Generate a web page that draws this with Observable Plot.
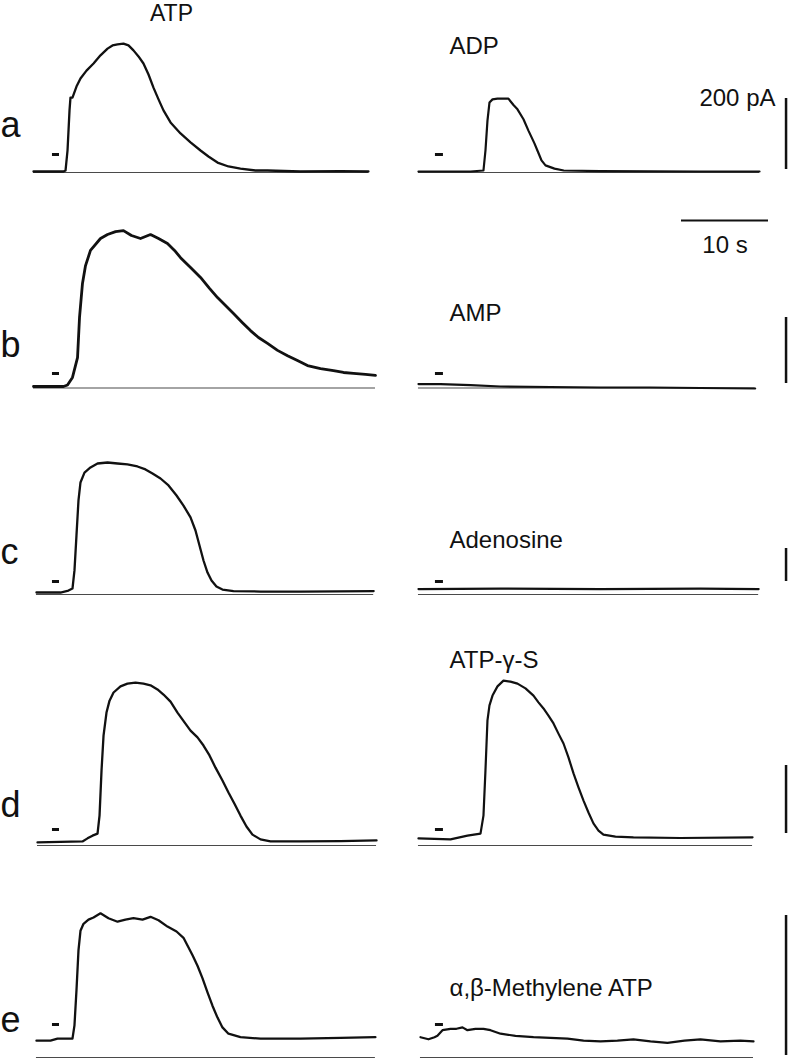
<!DOCTYPE html>
<html><head><meta charset="utf-8">
<script src="https://cdn.jsdelivr.net/npm/d3@7"></script>
<script src="https://cdn.jsdelivr.net/npm/@observablehq/plot@0.6"></script>
<style>
body{margin:0;background:#fff}
#fig{position:relative;width:788px;height:1061px;overflow:hidden;background:#fff}
#fig svg{position:absolute;left:0}
</style>
</head><body><div id="fig"></div>
<script>
// ---------- data: [time (s), current (pA)] ----------
const atp_a = [[0,2.8],[3.45,2.8],[3.68,5.6],[3.91,62],[4.14,175],[4.25,211],[4.48,211],[4.94,242],[5.40,265],[6.09,287],[6.90,307],[7.70,330],[8.51,349],[9.08,358],[9.66,361],[10.34,363],[10.92,358],[11.49,344],[12.07,327],[12.64,307],[13.22,276],[13.79,239],[14.37,206],[14.94,175],[15.75,141],[16.90,110],[18.05,85],[19.20,62],[20.11,45],[21.15,28],[22.41,17],[23.79,11],[25.52,5.6],[26.9,5.6],[30.7,2.8],[35.3,4],[38.5,2.8]];
const adp_a = [[0,2.8],[5.98,2.8],[7.47,5.6],[7.70,62],[7.93,146],[8.16,197],[8.51,206],[9.08,208],[9.77,208],[10.34,208],[10.92,190],[11.38,178],[12.07,150],[12.64,118],[13.33,82],[13.79,55],[14.14,34],[14.6,20],[15.63,11],[16.7,5.6],[20.9,4],[32.4,2.8],[39.2,2.8]];
const atp_b = [[0,4.5],[3.45,4.5],[3.91,9],[4.48,32],[5.06,92],[5.29,214],[5.63,317],[5.98,371],[6.55,417],[7.70,453],[8.51,465],[9.43,474],[10.34,477],[11.26,462],[12.30,453],[13.45,465],[14.37,453],[15.40,438],[16.21,417],[16.90,395],[18.05,365],[19.20,335],[20.23,302],[21.15,274],[22.07,250],[22.99,226],[24.02,198],[24.94,174],[25.86,153],[26.90,135],[28.05,114],[29.20,98],[30.34,83],[31.49,68],[32.99,59],[34.48,53],[35.63,47],[36.78,44],[38.16,41],[39.31,38]];
const amp_b = [[0,12],[2.53,12],[5.98,9],[9.43,4.5],[15.17,3],[20.9,1.5],[26.6,1.5],[32.4,0],[38.7,-1.5]];
const atp_c = [[0.34,12],[3.10,12],[4.02,24],[4.48,36],[4.71,146],[4.94,358],[5.17,570],[5.40,679],[5.86,739],[6.55,770],[7.36,794],[8.51,800],[9.66,794],[10.80,788],[11.95,776],[12.87,758],[13.68,733],[14.60,703],[15.52,661],[16.44,600],[17.24,539],[18.05,467],[18.62,388],[19.08,297],[19.54,206],[20.0,133],[20.46,85],[21.03,49],[21.72,30],[22.99,21],[26.1,18],[30.7,18],[39.1,21]];
const adenosine_c = [[0,33],[9.43,36],[20.9,33],[32.4,36],[39.1,33]];
const atp_d = [[0.46,9],[5.63,12],[6.21,21],[6.78,29],[7.36,35],[7.59,88],[7.82,221],[8.05,323],[8.39,391],[8.74,426],[9.20,450],[10.0,468],[10.80,476],[11.72,479],[12.64,476],[13.45,471],[14.25,459],[14.94,444],[15.75,423],[16.55,391],[17.36,362],[18.05,338],[18.85,318],[19.54,294],[20.23,265],[20.92,229],[21.72,191],[22.41,156],[23.10,123],[23.79,88],[24.48,56],[25.17,32],[26.09,18],[27.24,12],[30.69,12],[35.29,13],[39.43,15]];
const atpgs_d = [[0,21],[3.68,18],[5.63,29],[7.13,35],[7.47,88],[7.70,221],[7.93,368],[8.16,412],[8.51,441],[9.08,468],[9.77,485],[10.57,482],[11.38,476],[12.30,462],[13.22,441],[13.79,421],[14.37,403],[14.94,382],[15.52,359],[16.09,329],[16.67,300],[17.24,259],[17.82,212],[18.39,171],[18.97,132],[19.54,97],[20.11,65],[20.69,44],[21.26,32],[22.64,26],[24.71,24],[30.1,22],[38.4,24]];
const atp_e = [[0.34,24],[1.95,24],[2.76,27],[4.48,27],[4.71,46],[4.94,96],[5.17,153],[5.40,181],[5.75,191],[6.32,197],[6.90,200],[7.70,206],[8.62,199],[9.66,194],[10.57,197],[11.49,199],[12.53,197],[13.45,201],[14.37,196],[15.40,187],[16.44,180],[17.24,171],[17.70,160],[18.28,146],[18.85,131],[19.43,113],[20.0,93],[20.57,74],[21.15,57],[21.72,43],[22.41,34],[23.79,29],[26.1,27],[30.7,27],[35.3,28],[39.3,29]];
const mebATP_e = [[0.23,29],[1.15,26],[1.84,29],[2.18,31],[2.76,39],[3.68,41],[4.37,41],[5.06,43],[5.63,39],[6.55,41],[7.47,41],[8.28,39],[9.43,34],[11.15,31],[13.22,29],[15.17,28],[17.13,27],[18.97,24],[20.92,23],[22.87,24],[24.71,26],[26.67,23],[28.62,21],[30.57,24],[32.41,26],[34.71,23],[37.01,24],[38.51,23]];

const rowLetters = ["a","b","c","d","e"];
const leftAgonist = "ATP";
const rightAgonists = ["ADP","AMP","Adenosine","ATP-\u03b3-S","\u03b1,\u03b2-Methylene ATP"];
const leftTraces = [atp_a, atp_b, atp_c, atp_d, atp_e];
const rightTraces = [adp_a, amp_b, adenosine_c, atpgs_d, mebATP_e];
const appMarkerLeft = [2.18, 2.99];   // s, application marker
const appMarkerRight = [1.95, 2.87];  // s
const scaleCurrent = 200;             // pA
const scaleTime = 10;                 // s
const scaleLabels = ["200 pA", "10 s"];

// ---------- layout ----------
const W = 788, X0 = 33, PX_PER_S = 8.7;
const RIGHT_OFFSET = 44.25;     // s, where the right column starts
const BAR_T = 86.5;             // s, vertical scale bar position
const rows = [
  {top:0,   height:265, zeroPx:172,   barPx:71,  barBottomPx:169,  dashPx:154,  letterPx:136,  namePx:53},
  {top:265, height:150, zeroPx:387.5, barPx:66,  barBottomPx:383,  dashPx:373,  letterPx:356,  namePx:320},
  {top:415, height:200, zeroPx:594,   barPx:33,  barBottomPx:581,  dashPx:581,  letterPx:563,  namePx:547},
  {top:615, height:250, zeroPx:845,   barPx:68,  barBottomPx:833,  dashPx:829,  letterPx:816,  namePx:667},
  {top:865, height:196, zeroPx:1057,  barPx:140, barBottomPx:1055, dashPx:1024, letterPx:1031, namePx:995}
];
const FONT = "'Liberation Sans', Arial, Helvetica, sans-serif";
const INK = "#111";

const fig = document.getElementById("fig");
const tOf = px => (px - X0) / PX_PER_S;

rows.forEach((r, i) => {
  const k = r.barPx / scaleCurrent;           // px per pA
  const iOf = px => (r.zeroPx - px) / k;      // page px -> pA
  const L = leftTraces[i].map(([t, v]) => ({t, v}));
  const R = rightTraces[i].map(([t, v]) => ({t: t + RIGHT_OFFSET, v}));
  const zero = [
    {x1: d3.min(L, d => d.t), x2: d3.max(L, d => d.t), y: 0},
    {x1: d3.min(R, d => d.t), x2: d3.max(R, d => d.t), y: 0}
  ];
  const dashY = iOf(r.dashPx);
  const dashes = [
    {x1: appMarkerLeft[0], x2: appMarkerLeft[1], y: dashY},
    {x1: appMarkerRight[0] + RIGHT_OFFSET, x2: appMarkerRight[1] + RIGHT_OFFSET, y: dashY}
  ];
  const barBase = iOf(r.barBottomPx);
  const marks = [
    Plot.ruleY(zero, {x1: "x1", x2: "x2", y: "y", stroke: INK, strokeWidth: 0.9, strokeOpacity: 0.85}),
    Plot.line(L, {x: "t", y: "v", stroke: INK, strokeWidth: i === 1 ? 2.8 : 2.3, strokeLinejoin: "round"}),
    Plot.line(R, {x: "t", y: "v", stroke: INK, strokeWidth: 2.2, strokeLinejoin: "round"}),
    Plot.ruleY(dashes, {x1: "x1", x2: "x2", y: "y", stroke: INK, strokeWidth: 3}),
    Plot.ruleX([{x: BAR_T, y1: barBase, y2: barBase + scaleCurrent}], {x: "x", y1: "y1", y2: "y2", stroke: INK, strokeWidth: 2.5}),
    Plot.text([rowLetters[i]], {x: tOf(0), y: iOf(r.letterPx), text: d => d, textAnchor: "start", lineAnchor: "bottom", fontSize: 36, fill: INK}),
    Plot.text([rightAgonists[i]], {x: tOf(449), y: iOf(r.namePx), text: d => d, textAnchor: "start", lineAnchor: "bottom", fontSize: 24, fill: INK})
  ];
  if (i === 0) {
    marks.push(
      Plot.text([leftAgonist], {x: tOf(171), y: iOf(20), text: d => d, textAnchor: "middle", lineAnchor: "bottom", fontSize: 23, fill: INK}),
      Plot.text([scaleLabels[0]], {x: tOf(775), y: iOf(105), text: d => d, textAnchor: "end", lineAnchor: "bottom", fontSize: 24, fill: INK}),
      Plot.ruleY([{x1: tOf(681), x2: tOf(681) + scaleTime, y: iOf(220)}], {x1: "x1", x2: "x2", y: "y", stroke: INK, strokeWidth: 2}),
      Plot.text([scaleLabels[1]], {x: tOf(681) + scaleTime / 2, y: iOf(252), text: d => d, textAnchor: "middle", lineAnchor: "bottom", fontSize: 24, fill: INK})
    );
  }
  const svg = Plot.plot({
    width: W,
    height: r.height,
    margin: 0,
    x: {domain: [tOf(0), tOf(W)], range: [0, W], axis: null},
    y: {domain: [0, scaleCurrent], range: [r.zeroPx - r.top, r.zeroPx - r.top - r.barPx], axis: null},
    style: {background: "transparent", fontFamily: FONT, overflow: "visible"},
    marks
  });
  svg.style.top = r.top + "px";
  fig.appendChild(svg);
});
</script>
</body></html>
